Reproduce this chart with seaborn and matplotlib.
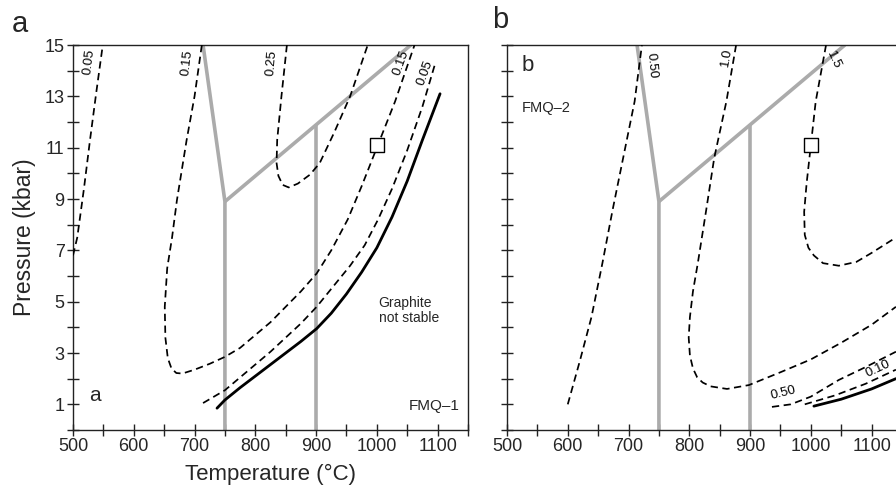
import matplotlib
matplotlib.use("Agg")
import matplotlib.pyplot as plt
import seaborn as sns
from matplotlib.ticker import MultipleLocator, FixedLocator

sns.set_theme(style="ticks")
plt.rcParams['font.family'] = ['Liberation Sans', 'DejaVu Sans']

# ---------------- data (T in °C, P in kbar) ----------------
# phase boundaries (grey), identical in both panels
gray_a_T = [714, 750, 750]
gray_a_P = [15.0, 8.9, 0.0]
gray_b_T = [750, 1056]
gray_b_P = [8.9, 15.0]
gray_c_T = [900, 900]
gray_c_P = [11.9, 0.0]

# panel a contours
a005L_T = [500, 507, 518, 528, 538, 549]
a005L_P = [6.8, 7.5, 9.4, 11.3, 13.1, 15.0]
a015_T = [712, 700, 687, 671, 663, 655, 651, 652, 656, 662, 670, 680, 700, 725, 750, 775, 800,
          825, 850, 875, 901, 925, 952, 975, 1000, 1030, 1062]
a015_P = [15.0, 13.0, 11.3, 8.95, 7.5, 6.3, 4.8, 3.6, 2.8, 2.4, 2.22, 2.2, 2.35, 2.58, 2.85, 3.2, 3.7,
          4.2, 4.8, 5.4, 6.1, 7.0, 8.2, 9.5, 11.0, 12.8, 15.0]
a025_T = [852, 843, 836, 835, 838, 845, 855, 870, 890, 906, 930, 956, 985]
a025_P = [15.0, 13.0, 11.3, 10.4, 9.9, 9.55, 9.45, 9.6, 9.95, 10.4, 11.6, 13.0, 15.0]
a005R_T = [714, 750, 775, 800, 825, 850, 875, 901, 925, 956, 980, 1002, 1025, 1050, 1075, 1095]
a005R_P = [1.05, 1.55, 2.05, 2.55, 3.05, 3.6, 4.15, 4.8, 5.5, 6.4, 7.2, 8.2, 9.4, 10.9, 12.6, 14.2]
aSolid_T = [737, 750, 775, 800, 825, 850, 875, 901, 925, 950, 975, 1000, 1025, 1050, 1075, 1104]
aSolid_P = [0.85, 1.17, 1.65, 2.1, 2.55, 3.0, 3.45, 3.95, 4.55, 5.3, 6.15, 7.1, 8.3, 9.7, 11.3, 13.1]

# panel b contours
b050L_T = [600, 620, 639, 657, 674, 692, 710, 722]
b050L_P = [1.0, 2.7, 4.4, 6.5, 8.6, 10.7, 12.8, 15.0]
b10_T = [877, 861, 841, 828, 814, 806, 801, 799, 801, 806, 813, 822, 835, 862, 898, 950, 1000, 1050, 1100, 1140]
b10_P = [15.0, 12.8, 10.6, 8.6, 6.5, 5.4, 4.4, 3.6, 2.9, 2.4, 2.05, 1.85, 1.7, 1.6, 1.75, 2.25, 2.75, 3.4, 4.1, 4.8]
b15_T = [1025, 1008, 1000, 993, 989, 990, 996, 1005, 1020, 1046, 1075, 1100, 1140]
b15_P = [15.0, 12.8, 11.1, 9.6, 8.5, 7.6, 7.1, 6.8, 6.5, 6.4, 6.55, 6.9, 7.5]
b050R_T = [936, 967, 1000, 1046, 1090, 1140]
b050R_P = [0.9, 1.0, 1.3, 1.95, 2.45, 3.05]
b010_T = [990, 1040, 1090, 1140]
b010_P = [1.0, 1.35, 1.8, 2.35]
bSolid_T = [1005, 1050, 1100, 1140]
bSolid_P = [0.93, 1.2, 1.6, 2.0]

square_T = [1000]
square_P = [11.1]

xticks = [500, 600, 700, 800, 900, 1000, 1100]
yticks = [1, 3, 5, 7, 9, 11, 13, 15]

# ---------------- figure ----------------
W, H = 896, 496
fig = plt.figure(figsize=(W / 100, H / 100), dpi=100)
axw, axh = 395 / W, 385 / H
axa = fig.add_axes([73 / W, 66 / H, axw, axh])
axb = fig.add_axes([507 / W, 66 / H, axw, axh])

GRAY = '#ababab'
DASH = (0, (4.2, 2.6))
dkw = dict(color='black', lw=1.25, linestyle=DASH, sort=False, estimator=None, legend=False)


def draw_gray(ax):
    for T, P in [(gray_a_T, gray_a_P), (gray_b_T, gray_b_P), (gray_c_T, gray_c_P)]:
        sns.lineplot(x=T, y=P, ax=ax, color=GRAY, lw=2.6, sort=False, estimator=None,
                     legend=False, zorder=1, solid_capstyle='butt')


def style_axes(ax, left_labels=True):
    ax.set_xlim(500, 1150)
    ax.set_ylim(0, 15)
    ax.xaxis.set_major_locator(FixedLocator(xticks))
    ax.xaxis.set_minor_locator(MultipleLocator(50))
    ax.yaxis.set_major_locator(FixedLocator(yticks))
    ax.yaxis.set_minor_locator(MultipleLocator(1))
    ax.tick_params(which='both', direction='inout', length=8, width=1.0, color='#222222',
                   labelsize=13, pad=2)
    ax.tick_params(axis='y', labelleft=left_labels)
    for s in ax.spines.values():
        s.set_linewidth(1.0)
        s.set_color('#222222')
        s.set_visible(True)
    ax.set_xlabel('')
    ax.set_ylabel('')


# ---- panel a ----
draw_gray(axa)
for T, P in [(a005L_T, a005L_P), (a015_T, a015_P), (a025_T, a025_P), (a005R_T, a005R_P)]:
    sns.lineplot(x=T, y=P, ax=axa, zorder=3, **dkw)
sns.lineplot(x=aSolid_T, y=aSolid_P, ax=axa, color='black', lw=2.0, sort=False,
             estimator=None, legend=False, zorder=3)
sns.scatterplot(x=square_T, y=square_P, ax=axa, marker='s', s=90, facecolor='white',
                edgecolor='black', linewidth=1.0, zorder=5, legend=False)
style_axes(axa, True)

lab = dict(fontsize=9.5, ha='center', va='center', color='black')
axa.text(527, 14.35, '0.05', rotation=83, **lab)
axa.text(688, 14.3, '0.15', rotation=83, **lab)
axa.text(827, 14.3, '0.25', rotation=85, **lab)
axa.text(1040, 14.3, '0.15', rotation=70, **lab)
axa.text(1079, 13.9, '0.05', rotation=70, **lab)
axa.text(1003, 4.65, 'Graphite\nnot stable', fontsize=10, ha='left', va='center', linespacing=1.05)
axa.text(1136, 0.95, 'FMQ–1', fontsize=11, ha='right', va='center')
axa.text(536, 1.35, 'a', fontsize=15, ha='center', va='center')
axa.set_xlabel('Temperature (°C)', fontsize=16, labelpad=6)
axa.set_ylabel('Pressure (kbar)', fontsize=16.5, labelpad=6)

# ---- panel b ----
draw_gray(axb)
for T, P in [(b050L_T, b050L_P), (b10_T, b10_P), (b15_T, b15_P), (b050R_T, b050R_P), (b010_T, b010_P)]:
    sns.lineplot(x=T, y=P, ax=axb, zorder=3, **dkw)
sns.lineplot(x=bSolid_T, y=bSolid_P, ax=axb, color='black', lw=2.0, sort=False,
             estimator=None, legend=False, zorder=3)
sns.scatterplot(x=square_T, y=square_P, ax=axb, marker='s', s=90, facecolor='white',
                edgecolor='black', linewidth=1.0, zorder=5, legend=False)
style_axes(axb, False)
axb.text(738, 14.2, '0.50', rotation=-85, **lab)
axb.text(861, 14.5, '1.0', rotation=80, **lab)
axb.text(1038, 14.4, '1.5', rotation=-65, **lab)
axb.text(955, 1.45, '0.50', rotation=14, **lab)
axb.text(1110, 2.4, '0.10', rotation=25, **lab)
axb.text(524, 14.2, 'b', fontsize=16, ha='left', va='center')
axb.text(524, 12.55, 'FMQ–2', fontsize=10.5, ha='left', va='center')
axb.set_xlabel('')
axb.set_ylabel('')

# panel letters
fig.text(12 / W, 1 - 24 / H, 'a', fontsize=21, ha='left', va='center')
fig.text(492 / W, 1 - 20 / H, 'b', fontsize=21, ha='left', va='center')

fig.savefig('out.png', dpi=100)
